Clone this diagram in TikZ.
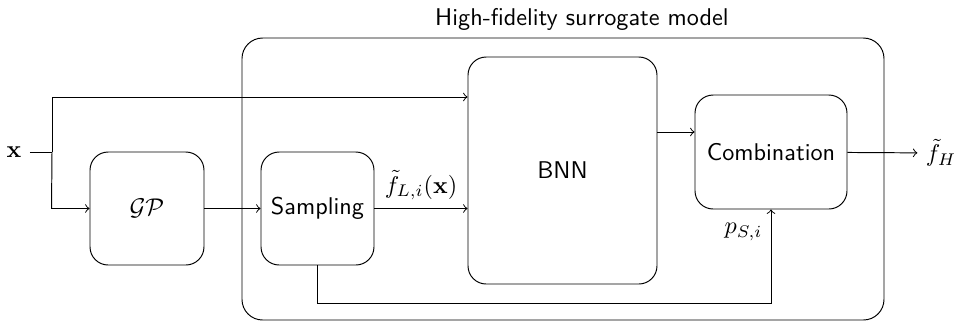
\documentclass[tikz,border=0pt]{standalone}
\usepackage{amsmath}
\usetikzlibrary{calc}
\begin{document}
\begin{tikzpicture}[x=0.413pt,y=-0.413pt,
  box/.style={draw, rounded corners=7.5pt, font=\sffamily, inner sep=0pt},
  conn/.style={->},
  lbl/.style={inner sep=3.33pt}]
\useasboundingbox (0,0) rectangle (956,322);
% outer box
\node[draw, rounded corners=8.5pt, minimum width={642*0.413pt}, minimum height={282*0.413pt}, inner sep=0pt] (outer) at (563,179) {};
\node[font=\sffamily, inner sep=0pt] (title) at (582,19) {High-fidelity surrogate model};
% inner boxes
\node[box, minimum width={114*0.413pt}, minimum height={113*0.413pt}] (gp) at (147,208.5) {$\mathcal{GP}$};
\node[box, minimum width={113*0.413pt}, minimum height={113*0.413pt}] (samp) at (317.5,208.5) {Sampling};
\node[box, minimum width={189*0.413pt}, minimum height={227*0.413pt}] (bnn) at (562.5,170.5) {BNN};
\node[box, minimum width={152*0.413pt}, minimum height={114*0.413pt}] (comb) at (771,152) {Combination};
% input / output labels
\node[lbl] (xin) at (14,152) {$\mathbf{x}$};
\node[lbl] (fh) at (941,153) {$\tilde{f}_H$};
% junction coordinates
\coordinate (j) at (52,152);
\coordinate (jt) at (52,97);
\path (gp.west) ++(-38,0) coordinate (jb);
\path (comb.west) ++(0,-20) coordinate (cin);
\path (samp.south) ++(0,38) coordinate (bot);
% connectors
\draw (xin) -- (j);
\draw[conn] (j) -- (jt) -- (jt -| bnn.west);
\draw[conn] (j) -- (jb) -- (gp.west);
\draw[conn] (gp) -- (samp);
\draw[conn] (samp.east) -- (samp.east -| bnn.west) node[midway, above, lbl] {$\tilde{f}_{L,i}(\mathbf{x})$};
\draw[conn] (bnn.east |- cin) -- (cin);
\draw[conn] (comb) -- (fh);
\draw[conn] (samp.south) -- (bot) -| (comb.south) node[pos=0.88, left, lbl] {$p_{S,i}$};
\end{tikzpicture}
\end{document}
